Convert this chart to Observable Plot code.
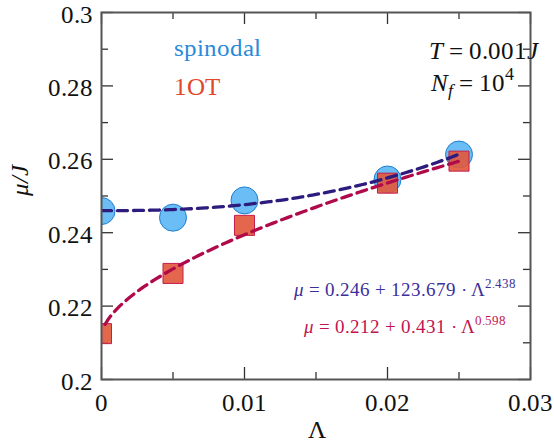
<!DOCTYPE html>
<html>
<head>
<meta charset="utf-8">
<script src="https://cdn.jsdelivr.net/npm/d3@7"></script>
<script src="https://cdn.jsdelivr.net/npm/@observablehq/plot@0.6"></script>
<style>
  @font-face { font-family: "ChartSerif"; src: local("Liberation Serif"), local("LiberationSerif"); font-style: normal; }
  @font-face { font-family: "ChartSerif"; src: local("Liberation Serif Italic"), local("LiberationSerif-Italic"); font-style: italic; }
  body { margin: 0; background: #fff; font-family: "Liberation Serif", serif; }
</style>
</head>
<body>
<div id="chart"></div>
<script>
// Chemical potential vs. Λ for the spinodal and the 1OT transition
const lambdaValues = [0, 0.005, 0.01, 0.02, 0.025];
const spinodalMu   = [0.2459, 0.2441, 0.2488, 0.2545, 0.2613];
const oneOTMu      = [0.2125, 0.2289, 0.2420, 0.2535, 0.2595];

// Power-law fits  μ = a + b · Λ^c
const spinodalFit = { a: 0.246, b: 123.679, c: 2.438 };
const oneOTFit    = { a: 0.212, b: 0.431,   c: 0.598 };
const fitLambdaMax = 0.025;
const fitSteps = 100;

// Axis ticks
const xMajor = [0, 0.01, 0.02, 0.03];
const xMajorLabels = ["0", "0.01", "0.02", "0.03"];
const xMinor = [0.005, 0.015, 0.025];
const yMajor = [0.2, 0.22, 0.24, 0.26, 0.28, 0.3];
const yMajorLabels = ["0.2", "0.22", "0.24", "0.26", "0.28", "0.3"];
const yMinor = [0.21, 0.23, 0.25, 0.27, 0.29];

const rows = (ys) => lambdaValues.map((x, i) => ({ lambda: x, mu: ys[i] }));
const spinodalPts = rows(spinodalMu);
const oneOTPts = rows(oneOTMu);

const fitCurve = (f, start) => d3.range(start, fitSteps + 1)
  .map(k => fitLambdaMax * k / fitSteps)
  .map(l => ({ lambda: l, mu: f.a + f.b * Math.pow(l, f.c) }));
const spinodalCurve = fitCurve(spinodalFit, 0);
const oneOTCurve = fitCurve(oneOTFit, 1);

const W = 554, H = 443;
const mL = 101, mR = 24, mT = 12, mB = 64;
const innerW = W - mL - mR, innerH = H - mT - mB;
const majorLen = 12, minorLen = 7;
const tickColor = "#333";
const FONT = "ChartSerif, Liberation Serif, serif";

// Rich-text annotations (segments: italic / superscript / subscript)
const eq1 = [{ t: "μ", i: true }, { t: " = 0.246 + 123.679 · Λ" }, { t: "2.438", sup: true }];
const eq2 = [{ t: "μ", i: true }, { t: " = 0.212 + 0.431 · Λ" }, { t: "0.598", sup: true }];
const tempLabel = [{ t: "T", i: true }, { t: " = 0.001" }, { t: "J", i: true }];
const sizeLabel = [{ t: "N", i: true }, { t: "f", i: true, sub: true }, { t: " = 10" }, { t: "4", sup: true }];
const plain = segs => segs.map(s => s.t).join("");

const insideTicks = (values, len) => [
  Plot.tickX(values, { x: d => d, insetTop: innerH - len, stroke: tickColor, strokeWidth: 1.3 }),
  Plot.tickX(values, { x: d => d, insetBottom: innerH - len, stroke: tickColor, strokeWidth: 1.3 })
];
const insideTicksY = (values, len) => [
  Plot.tickY(values, { y: d => d, insetRight: innerW - len, stroke: tickColor, strokeWidth: 1.3 }),
  Plot.tickY(values, { y: d => d, insetLeft: innerW - len, stroke: tickColor, strokeWidth: 1.3 })
];

const note = (segs, o) => Plot.text([plain(segs)], {
  text: d => d, frameAnchor: "top-left", lineAnchor: "bottom", fontFamily: FONT, ...o
});

const plot = Plot.plot({
  width: W, height: H,
  marginLeft: mL, marginRight: mR, marginTop: mT, marginBottom: mB,
  x: { domain: [0, 0.03], axis: null },
  y: { domain: [0.2, 0.3], axis: null },
  style: { fontFamily: FONT },
  marks: [
    ...insideTicks(xMajor, majorLen),
    ...insideTicks(xMinor, minorLen),
    ...insideTicksY(yMajor, majorLen),
    ...insideTicksY(yMinor, minorLen),
    Plot.dot(spinodalPts, { x: "lambda", y: "mu", r: 13.5, fill: "#6bbdf5", stroke: "#1f7fd0", strokeWidth: 1, clip: true }),
    Plot.dot(oneOTPts, { x: "lambda", y: "mu", symbol: "square", r: 11.3, fill: "#e2593e", fillOpacity: 0.92, stroke: "#c41f4d", strokeWidth: 1, clip: true }),
    Plot.line(spinodalCurve, { x: "lambda", y: "mu", stroke: "#2d1b7e", strokeWidth: 3.3, strokeDasharray: "10,6", clip: true }),
    Plot.line(oneOTCurve, { x: "lambda", y: "mu", stroke: "#b00a4a", strokeWidth: 3.3, strokeDasharray: "10,6", clip: true }),
    Plot.frame({ stroke: "#555", strokeWidth: 2 }),
    Plot.axisX(xMajor, { tickSize: 0, tickPadding: 14, fontSize: 25, label: null, fontFamily: FONT, fill: "#111",
      tickFormat: d => xMajorLabels[xMajor.indexOf(d)] }),
    Plot.axisY(yMajor, { tickSize: 0, tickPadding: 9, dy: 2, fontSize: 25, label: null, fontFamily: FONT, fill: "#111",
      tickFormat: d => yMajorLabels[yMajor.indexOf(d)] }),
    Plot.text(["Λ"], { text: d => d, frameAnchor: "bottom", dx: 316 - (mL + innerW / 2), dy: 58, lineAnchor: "bottom", fontSize: 25, fontFamily: FONT, fill: "#111" }),
    Plot.text(["μ/J"], { text: d => d, frameAnchor: "left", dx: 27 - mL, dy: 0, rotate: -90, lineAnchor: "bottom", fontSize: 25, fontStyle: "italic", fontFamily: FONT, fill: "#111" }),
    Plot.text(["spinodal"], { text: d => d, frameAnchor: "top-left", dx: 72, dy: 43, lineAnchor: "bottom", fontSize: 25, fontFamily: FONT, fill: "#2a8ad8" }),
    Plot.text(["1OT"], { text: d => d, frameAnchor: "top-left", dx: 72, dy: 82, lineAnchor: "bottom", fontSize: 25, fontFamily: FONT, fill: "#e2472e" }),
    note(tempLabel, { dx: 327, dy: 46, fontSize: 25, fill: "#111" }),
    note(sizeLabel, { dx: 329, dy: 78, fontSize: 25, fill: "#111" }),
    note(eq1, { dx: 414, dy: 283, fontSize: 18.5, textAnchor: "end", fill: "#3d2f9a" }),
    note(eq2, { dx: 404, dy: 320, fontSize: 18.5, textAnchor: "end", fill: "#c2134f" })
  ]
});

// Rebuild the annotation strings as tspans for italics, sub- and superscripts
function styleRich(root, segs) {
  const target = plain(segs);
  d3.select(root).selectAll("text").filter(function () { return this.textContent === target; })
    .each(function () {
      const t = d3.select(this);
      const holder = this.closest("[font-size]");
      const base = parseFloat(holder ? holder.getAttribute("font-size") : 20) || 20;
      t.text(null);
      let shift = 0;
      segs.forEach(s => {
        const want = s.sup ? -0.42 * base : s.sub ? 0.22 * base : 0;
        const sp = t.append("tspan").text(s.t);
        if (want !== shift) sp.attr("dy", want - shift);
        shift = want;
        if (s.sup || s.sub) sp.attr("font-size", base * 0.7);
        if (s.i) sp.attr("font-style", "italic");
      });
    });
}
[eq1, eq2, tempLabel, sizeLabel].forEach(s => styleRich(plot, s));

document.getElementById("chart").appendChild(plot);
</script>
</body>
</html>
